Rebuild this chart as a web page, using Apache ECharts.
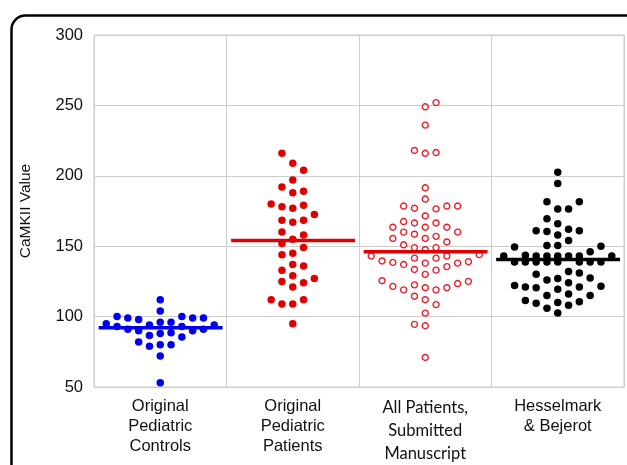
<!DOCTYPE html>
<html>
<head>
<meta charset="utf-8">
<script src="https://cdn.jsdelivr.net/npm/echarts@6/dist/echarts.min.js"></script>
<style>
html,body{margin:0;padding:0;background:#fff;}
#c{width:627px;height:465px;}
</style>
</head>
<body>
<div id="c"></div>
<script>
// ---- data ----
const categories = ['Original\nPediatric\nControls', 'Original\nPediatric\nPatients', 'All Patients,\nSubmitted\nManuscript', 'Hesselmark\n& Bejerot'];
const yTicks = [50, 100, 150, 200, 250, 300];

const controlsValues = [112,104,99,99,100,100,98,99,96,95,94,93,93,94,96,91,88.5,86.5,91,90,85.5,88,90,80,79,82,80,72,53];
const patientsValues = [216,209,204,197,189,188,192,179,177,178,180,172.5,168.5,167,168.5,160,158,155,152,149,144,145,137,133,136,129,125,121,124,127,112,109,109,112,95];
const submittedValues = [252,249,236,216.5,216,218,191.5,178.5,178.5,176.5,177,178.5,183.5,171.5,166.5,163.5,163.5,163.5,166.5,167.5,160,158.5,155.5,153,151,155.5,157,160,149,144,143,141.5,139.5,141.5,143,147.5,149,139,138,135.5,133,130,133.5,137,138,138.5,125,122.5,120.5,119,119,120.5,121.5,123.5,125.5,112,108.5,114.5,102.5,94.5,93.5,71];
const hesselmarkValues = [202.5,194.5,181.5,176.5,176.5,181.5,169.5,166,160.5,162,161,161,158,154,150.5,150.5,150,149.5,146,143,143,143,143,143,143,143,143.5,138.7,138.7,138.7,138.7,138.7,138.7,138.7,138.7,131,127.5,126,127,130,132,124,121.5,120.5,119.5,121,121,122,115,115,116,110.5,109.5,106,102.5,108,110,111.5];
const groupMeans = [92, 154, 146, 140.5];

// ---- styling ----
const GRID_COLOR = '#cdcdcd';
const FONT = '"Liberation Sans", Arial, sans-serif';
const SLOT_PX = 10.8;   // horizontal spacing of swarm columns
const GAP_PX = 10;      // wanted vertical gap of points sharing a column
const MAX_SLOT = 5;     // widest swarm half-width, in columns

const chart = echarts.init(document.getElementById('c'), null, {renderer: 'canvas'});

const baseOption = {
  animation: false,
  backgroundColor: '#fff',
  grid: {left: 94, right: 3, top: 35, bottom: 76, show: true, borderColor: GRID_COLOR, borderWidth: 1},
  graphic: [{
    type: 'rect', left: 9, top: 13, z: 100, silent: true,
    shape: {width: 640, height: 500, r: 14},
    style: {fill: 'none', stroke: '#000', lineWidth: 2.5}
  }],
  xAxis: [{
    type: 'category', data: categories, boundaryGap: true, position: 'bottom',
    axisLine: {show: false}, axisTick: {show: false},
    splitLine: {show: true, lineStyle: {color: GRID_COLOR, width: 1}},
    axisLabel: {
      margin: 9, fontSize: 16.5, lineHeight: 20, color: '#111', fontFamily: FONT,
      verticalAlign: 'top', interval: 0,
      formatter: function (v, i) {
        if (i === 2) return v.split('\n').map(function (s) { return '{m|' + s + '}'; }).join('\n');
        return v;
      },
      rich: {m: {fontFamily: 'Lato, "Open Sans", sans-serif', fontSize: 16.5, lineHeight: 23, color: '#111'}}
    }
  }, {
    type: 'value', min: 0, max: 4, show: false
  }],
  yAxis: [{
    type: 'value', min: yTicks[0], max: yTicks[yTicks.length - 1], interval: 50,
    name: 'CaMKII Value', nameLocation: 'middle', nameGap: 60, nameRotate: 90,
    nameTextStyle: {fontSize: 15.5, color: '#111', fontFamily: FONT},
    axisLine: {show: false}, axisTick: {show: false},
    splitLine: {show: true, lineStyle: {color: GRID_COLOR, width: 1}},
    axisLabel: {fontSize: 16.5, color: '#111', fontFamily: FONT, margin: 11}
  }],
  series: []
};
chart.setOption(baseOption);

// scale measurements from the library
const y0 = chart.convertToPixel({yAxisIndex: 0}, 50);
const y1 = chart.convertToPixel({yAxisIndex: 0}, 300);
const pxPerUnit = Math.abs(y0 - y1) / 250;
const x0 = chart.convertToPixel({xAxisIndex: 1}, 0);
const x1 = chart.convertToPixel({xAxisIndex: 1}, 1);
const catPx = Math.abs(x1 - x0);
const slotUnit = SLOT_PX / catPx;

// greedy column swarm: nearest-to-centre free column, capped width
function swarm(values, catIndex) {
  const order = values.map(function (v, i) { return i; }).sort(function (a, b) { return values[a] - values[b]; });
  const placed = [];
  const out = new Array(values.length);
  let neg = 0, pos = 0;
  function minDist(k, v) {
    let d = Infinity;
    for (let j = 0; j < placed.length; j++) {
      if (placed[j].k === k) d = Math.min(d, Math.abs(placed[j].v - v) * pxPerUnit);
    }
    return d;
  }
  order.forEach(function (i) {
    const v = values[i];
    let k = null;
    const cands = [0];
    for (let m = 1; m <= MAX_SLOT; m++) {
      if (neg <= pos) { cands.push(-m, m); } else { cands.push(m, -m); }
    }
    for (let c = 0; c < cands.length; c++) {
      if (minDist(cands[c], v) >= GAP_PX) { k = cands[c]; break; }
    }
    if (k === null) {
      let best = -1;
      cands.forEach(function (c) {
        const d = minDist(c, v);
        if (d > best + 0.01) { best = d; k = c; }
      });
    }
    if (k < 0) neg++; else if (k > 0) pos++;
    placed.push({k: k, v: v});
    out[i] = [catIndex + 0.5 + k * slotUnit, v];
  });
  return out;
}

const groups = [
  {values: controlsValues, color: '#0000ee', hollow: false},
  {values: patientsValues, color: '#e00000', hollow: false},
  {values: submittedValues, color: '#ee1c25', hollow: true},
  {values: hesselmarkValues, color: '#000000', hollow: false}
];

const series = [];
groups.forEach(function (g, gi) {
  series.push({
    type: 'scatter', xAxisIndex: 1, yAxisIndex: 0,
    data: swarm(g.values, gi),
    symbol: 'circle',
    symbolSize: g.hollow ? 6 : 7.5,
    itemStyle: g.hollow ? {color: '#fff', borderColor: g.color, borderWidth: 1.4, opacity: 1}
                        : {color: g.color, opacity: 1},
    z: 3
  });
});
groups.forEach(function (g, gi) {
  series.push({
    type: 'line', xAxisIndex: 1, yAxisIndex: 0,
    data: [[gi + 0.035, groupMeans[gi]], [gi + 0.97, groupMeans[gi]]],
    showSymbol: false, symbol: 'none',
    lineStyle: {color: g.hollow ? '#e00000' : g.color, width: 3.5},
    z: 4
  });
});
chart.setOption({series: series});
</script>
</body>
</html>
